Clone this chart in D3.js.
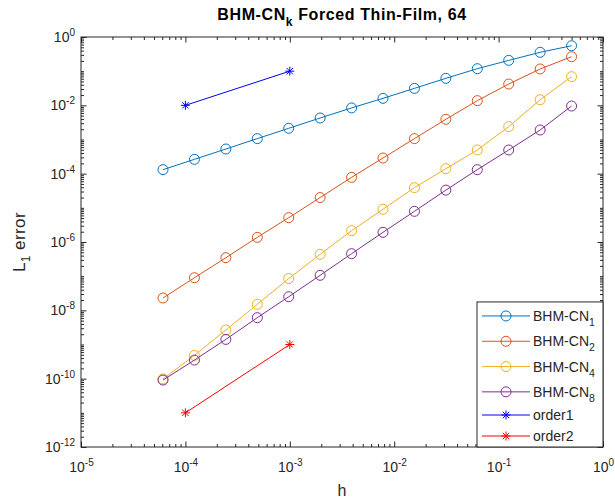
<!DOCTYPE html>
<html lang="en">
<head>
<meta charset="UTF-8">
<title>BHM-CN Forced Thin-Film</title>
<script src="https://cdn.jsdelivr.net/npm/d3@7/dist/d3.min.js"></script>
<style>
    body{margin:0;background:#fff;font-family:"Liberation Sans",Arial,sans-serif;}
    .axis text{font-size:14px;fill:#262626;}
    .axis path,.axis line{stroke:#262626;}
</style>
</head>
<body>
<svg id="main" width="615" height="500"></svg>
<script>
    // step sizes (halved each level)
    const hVals = [0.5, 0.25, 0.125, 0.0625, 0.03125, 0.015625, 0.0078125,
        0.00390625, 0.001953125, 0.0009765625, 0.00048828125, 0.000244140625,
        0.0001220703125, 0.00006103515625];
    const cn1 = [0.556, 0.356, 0.207, 0.118, 0.0617, 0.0314, 0.016, 8.4e-3,
        4.26e-3, 2.13e-3, 1.06e-3, 5.27e-4, 2.63e-4, 1.31e-4];
    const cn2 = [0.265, 0.116, 0.042, 0.0137, 3.9e-3, 1.06e-3, 2.87e-4, 7.8e-5,
        2.0e-5, 5.15e-6, 1.37e-6, 3.47e-7, 9.0e-8, 2.3e-8];
    const cn4 = [0.0689, 0.0146, 2.37e-3, 4.93e-4, 1.4e-4, 3.9e-5, 9.1e-6, 2.14e-6,
        4.36e-7, 8.5e-8, 1.5e-8, 2.66e-9, 4.8e-10, 9.8e-11];
    const cn8 = [9.55e-3, 1.9e-3, 4.93e-4, 1.31e-4, 3.3e-5, 7.9e-6, 1.92e-6, 4.55e-7,
        1.06e-7, 2.5e-8, 6.1e-9, 1.41e-9, 3.5e-10, 9.1e-11];
    const refH = [1e-4, 1e-3];
    const order1 = [1e-2, 1e-1];
    const order2 = [1e-11, 1e-9];

    const xTickExps = [-5, -4, -3, -2, -1, 0];
    const yTickExps = [0, -2, -4, -6, -8, -10, -12];

    const series = [
        {name: "BHM-CN", sub: "1", x: hVals, y: cn1, color: "#0072BD", marker: "o"},
        {name: "BHM-CN", sub: "2", x: hVals, y: cn2, color: "#D95319", marker: "o"},
        {name: "BHM-CN", sub: "4", x: hVals, y: cn4, color: "#EDB120", marker: "o"},
        {name: "BHM-CN", sub: "8", x: hVals, y: cn8, color: "#7E2F8E", marker: "o"},
        {name: "order1", sub: null, x: refH, y: order1, color: "#0000FF", marker: "*"},
        {name: "order2", sub: null, x: refH, y: order2, color: "#FF0000", marker: "*"}
    ];

    const margin = {top: 37, right: 12, bottom: 53, left: 81};
    const width = 615, height = 500;

    const xScale = d3.scaleLog().domain([1e-5, 1]).range([margin.left, width - margin.right]);
    const yScale = d3.scaleLog().domain([1e-12, 1]).range([height - margin.bottom, margin.top]);

    const svg = d3.select("svg#main");
    const x0 = margin.left, x1 = width - margin.right;
    const y0 = height - margin.bottom, y1 = margin.top;

    // minor ticks (2..9 in each decade)
    const minor = (lo, hi) => {
        const out = [];
        for (let e = lo; e < hi; e++) for (let k = 2; k <= 9; k++) out.push(k * Math.pow(10, e));
        return out;
    };
    const xMinor = minor(-5, 0);
    const yOdd = d3.range(-11, 0, 2).map(e => Math.pow(10, e));
    const yMinor = minor(-12, 0).concat(yOdd);
    const xMajor = xTickExps.map(e => Math.pow(10, e));
    const yMajor = yTickExps.map(e => Math.pow(10, e));

    const addSup = (sel, exps) => {
        sel.selectAll(".tick text").each(function (d, i) {
            const t = d3.select(this).text("");
            t.append("tspan").text("10");
            t.append("tspan").attr("dy", "-6").attr("font-size", "10px").text(exps[i]);
        });
    };

    // bottom axis
    const gx = svg.append("g").attr("class", "axis").attr("transform", `translate(0,${y0})`);
    gx.call(d3.axisBottom(xScale).tickValues(xMajor).tickSizeInner(-5.5).tickSizeOuter(0));
    addSup(gx, xTickExps);
    gx.selectAll(".tick text").attr("y", 25).attr("dy", 0);
    gx.select(".domain").remove();

    const gxm = svg.append("g").attr("class", "axis").attr("transform", `translate(0,${y0})`);
    gxm.call(d3.axisBottom(xScale).tickValues(xMinor).tickSizeInner(-3).tickSizeOuter(0).tickFormat(""));
    gxm.select(".domain").remove();

    // top axis
    const gt = svg.append("g").attr("class", "axis").attr("transform", `translate(0,${y1})`);
    gt.call(d3.axisTop(xScale).tickValues(xMajor).tickSizeInner(-5.5).tickSizeOuter(0).tickFormat(""));
    gt.select(".domain").remove();
    const gtm = svg.append("g").attr("class", "axis").attr("transform", `translate(0,${y1})`);
    gtm.call(d3.axisTop(xScale).tickValues(xMinor).tickSizeInner(-3).tickSizeOuter(0).tickFormat(""));
    gtm.select(".domain").remove();

    // left axis
    const gy = svg.append("g").attr("class", "axis").attr("transform", `translate(${x0},0)`);
    gy.call(d3.axisLeft(yScale).tickValues(yMajor).tickSizeInner(-5.5).tickSizeOuter(0).tickPadding(6));
    addSup(gy, yTickExps);
    gy.select(".domain").remove();
    const gym = svg.append("g").attr("class", "axis").attr("transform", `translate(${x0},0)`);
    gym.call(d3.axisLeft(yScale).tickValues(yMinor).tickSizeInner(-3).tickSizeOuter(0).tickFormat(""));
    gym.select(".domain").remove();

    // right axis
    const gr = svg.append("g").attr("class", "axis").attr("transform", `translate(${x1},0)`);
    gr.call(d3.axisRight(yScale).tickValues(yMajor).tickSizeInner(-5.5).tickSizeOuter(0).tickFormat(""));
    gr.select(".domain").remove();
    const grm = svg.append("g").attr("class", "axis").attr("transform", `translate(${x1},0)`);
    grm.call(d3.axisRight(yScale).tickValues(yMinor).tickSizeInner(-3).tickSizeOuter(0).tickFormat(""));
    grm.select(".domain").remove();

    // box
    svg.append("rect").attr("x", x0).attr("y", y1).attr("width", x1 - x0).attr("height", y0 - y1)
        .attr("fill", "none").attr("stroke", "#262626").attr("stroke-width", 1);

    // lines + markers
    const line = d3.line().x(d => xScale(d[0])).y(d => yScale(d[1]));
    const star = (g, cx, cy, r, color) => {
        const p = `M${cx - r},${cy}L${cx + r},${cy}M${cx},${cy - r}L${cx},${cy + r}` +
            `M${cx - r * 0.7},${cy - r * 0.7}L${cx + r * 0.7},${cy + r * 0.7}` +
            `M${cx - r * 0.7},${cy + r * 0.7}L${cx + r * 0.7},${cy - r * 0.7}`;
        g.append("path").attr("d", p).attr("stroke", color).attr("stroke-width", 1).attr("fill", "none");
    };

    const plot = svg.append("g");
    series.forEach(s => {
        const pts = s.x.map((h, i) => [h, s.y[i]]);
        const g = plot.append("g");
        g.append("path").attr("d", line(pts)).attr("fill", "none")
            .attr("stroke", s.color).attr("stroke-width", 1);
        pts.forEach(p => {
            if (s.marker === "o") {
                g.append("circle").attr("cx", xScale(p[0])).attr("cy", yScale(p[1])).attr("r", 5)
                    .attr("fill", "none").attr("stroke", s.color).attr("stroke-width", 1);
            } else {
                star(g, xScale(p[0]), yScale(p[1]), 4.5, s.color);
            }
        });
    });

    // legend
    const lgX = 477, lgW = x1 - lgX;
    const rowH = series.map(s => s.sub ? 25.3 : 21);
    const steps = rowH.slice(1).map((h, i) => (h + rowH[i]) / 2);
    const lgH = 14 + d3.sum(steps) + 11;
    const lg = svg.append("g").attr("transform", `translate(${lgX},${y0 - lgH})`);
    lg.append("rect").attr("width", lgW).attr("height", lgH).attr("fill", "#fff")
        .attr("stroke", "#262626").attr("stroke-width", 1);
    let yy = 14;
    series.forEach((s, i) => {
        const row = lg.append("g").attr("transform", `translate(0,${yy})`);
        row.append("line").attr("x1", 5).attr("x2", 53).attr("y1", 0).attr("y2", 0)
            .attr("stroke", s.color).attr("stroke-width", 1);
        if (s.marker === "o") {
            row.append("circle").attr("cx", 29).attr("cy", 0).attr("r", 5)
                .attr("fill", "none").attr("stroke", s.color);
        } else {
            star(row, 29, 0, 4.5, s.color);
        }
        const t = row.append("text").attr("x", 56).attr("y", 5).attr("font-size", "14px").attr("fill", "#262626");
        t.append("tspan").text(s.name);
        if (s.sub) t.append("tspan").attr("dy", 5).attr("font-size", "10.5px").text(s.sub);
        if (i < steps.length) yy += steps[i];
    });

    // title and labels
    const title = svg.append("text").attr("x", (x0 + x1) / 2).attr("y", 20).attr("text-anchor", "middle")
        .attr("font-size", "16px").attr("font-weight", "bold").attr("letter-spacing", "0.6px").attr("fill", "#000");
    title.append("tspan").text("BHM-CN");
    title.append("tspan").attr("dy", 6).attr("font-size", "12px").text("k");
    title.append("tspan").attr("dy", -6).text(" Forced Thin-Film, 64");

    svg.append("text").attr("x", (x0 + x1) / 2).attr("y", 496).attr("text-anchor", "middle")
        .attr("font-size", "16px").attr("fill", "#262626").text("h");

    const yl = svg.append("text").attr("transform", `translate(25,${(y0 + y1) / 2}) rotate(-90)`)
        .attr("text-anchor", "middle").attr("font-size", "17px").attr("letter-spacing", "0.4px").attr("fill", "#262626");
    yl.append("tspan").text("L");
    yl.append("tspan").attr("dy", 5).attr("font-size", "12px").text("1");
    yl.append("tspan").attr("dy", -5).text(" error");
</script>
</body>
</html>
